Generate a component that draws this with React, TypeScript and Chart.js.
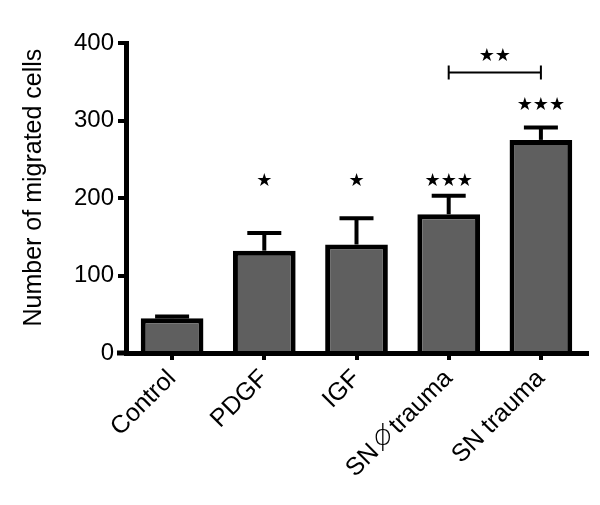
import React, { useEffect, useRef } from "react";
import { Chart, registerables } from "chart.js";
Chart.register(...registerables);

const categories = ["Control", "PDGF", "IGF", "SN \u03D5 trauma", "SN trauma"];
const means = [45, 132, 140, 179, 275];
const sems = [2, 23, 34, 24, 16];
const starLabels = ["", "\u2605", "\u2605", "\u2605\u2605\u2605", "\u2605\u2605\u2605"];
const starLevels = [0, 222, 222, 222, 320];
const bracketFrom = 3;
const bracketTo = 4;
const bracketLevel = 362;
const bracketLabel = "\u2605\u2605";
const bracketLabelLevel = 383;
const yTicks = [0, 100, 200, 300, 400];

const UPRIGHT = "\u03D5";
const GAP = "\u2002";
const FONT = "'Liberation Sans', Arial, Helvetica, sans-serif";

const annotations = {
  id: "annotations",
  afterDatasetsDraw(chart: any) {
    const ctx = chart.ctx;
    const x = chart.scales.x;
    const y = chart.scales.y;
    ctx.save();
    ctx.strokeStyle = "#000";
    ctx.fillStyle = "#000";
    // error bars
    ctx.lineWidth = 4;
    means.forEach((m, i) => {
      const cx = x.getPixelForValue(i);
      const yb = y.getPixelForValue(m);
      const yt = y.getPixelForValue(m + sems[i]);
      ctx.beginPath();
      ctx.moveTo(cx, yb);
      ctx.lineTo(cx, yt);
      ctx.stroke();
      ctx.beginPath();
      ctx.moveTo(cx - 17, yt);
      ctx.lineTo(cx + 17, yt);
      ctx.stroke();
    });
    // stars
    ctx.font = `18px 'DejaVu Sans', sans-serif`;
    ctx.textAlign = "center";
    ctx.textBaseline = "middle";
    starLabels.forEach((s, i) => {
      if (!s) return;
      ctx.fillText(s, x.getPixelForValue(i), y.getPixelForValue(starLevels[i]));
    });
    // bracket
    const x1 = x.getPixelForValue(bracketFrom);
    const x2 = x.getPixelForValue(bracketTo);
    const yb = y.getPixelForValue(bracketLevel);
    ctx.lineWidth = 2;
    ctx.beginPath();
    ctx.moveTo(x1, yb);
    ctx.lineTo(x2, yb);
    ctx.moveTo(x1, yb - 7);
    ctx.lineTo(x1, yb + 7);
    ctx.moveTo(x2, yb - 7);
    ctx.lineTo(x2, yb + 7);
    ctx.stroke();
    ctx.fillText(bracketLabel, (x1 + x2) / 2, y.getPixelForValue(bracketLabelLevel));
    // x-axis extension to the left
    ctx.lineWidth = 5;
    ctx.beginPath();
    ctx.moveTo(chart.chartArea.left - 9, y.getPixelForValue(0));
    ctx.lineTo(chart.chartArea.left, y.getPixelForValue(0));
    ctx.stroke();
    ctx.restore();
  },
  afterDraw(chart: any) {
    // draw the upright glyph inside the rotated tick label
    const x = chart.scales.x;
    const items = x._labelItems || [];
    const ctx = chart.ctx;
    items.forEach((item: any, i: number) => {
      const cat = categories[i];
      if (!cat || cat.indexOf(UPRIGHT) < 0) return;
      const after = cat.slice(cat.indexOf(UPRIGHT) + 1);
      const o = item.options;
      ctx.save();
      ctx.translate(o.translation[0], o.translation[1]);
      ctx.rotate(o.rotation);
      ctx.font = item.font.string;
      ctx.textBaseline = o.textBaseline;
      const wAfter = ctx.measureText(after).width;
      const wGap = ctx.measureText(GAP).width;
      const mN = ctx.measureText("N");
      const cx = -(wAfter + wGap / 2);
      const cy = item.textOffset + (mN.actualBoundingBoxDescent - mN.actualBoundingBoxAscent) / 2;
      ctx.translate(cx, cy);
      ctx.rotate(-o.rotation);
      ctx.font = "300 29px Roboto, 'DejaVu Sans', sans-serif";
      ctx.textAlign = "center";
      ctx.textBaseline = "alphabetic";
      ctx.fillStyle = "#000";
      const mg = ctx.measureText(UPRIGHT);
      ctx.fillText(UPRIGHT, 0, (mg.actualBoundingBoxAscent - mg.actualBoundingBoxDescent) / 2);
      ctx.restore();
    });
  },
};

export default function App() {
  const ref = useRef<HTMLCanvasElement>(null);
  useEffect(() => {
    if (!ref.current) return;
    const chart = new Chart(ref.current, {
      type: "bar",
      data: {
        labels: categories,
        datasets: [
          {
            data: means,
            backgroundColor: "#5f5f5f",
            borderColor: "#000",
            borderWidth: 5,
            borderSkipped: "bottom",
            barPercentage: 0.68,
            categoryPercentage: 1,
          },
        ],
      },
      options: {
        responsive: false,
        animation: false,
        layout: { padding: { top: 43, right: 13, left: 0, bottom: 0 } },
        plugins: { legend: { display: false }, tooltip: { enabled: false } },
        scales: {
          x: {
            afterFit: (s: any) => {
              s.height = 152;
            },
            grid: {
              display: true,
              drawOnChartArea: false,
              offset: false,
              drawTicks: true,
              tickLength: 7,
              lineWidth: 4,
              color: "#000",
            },
            border: { display: true, color: "#000", width: 5 },
            ticks: {
              color: "#000",
              font: { family: FONT, size: 25 },
              maxRotation: 45,
              minRotation: 45,
              padding: 4,
              callback: (_v: any, i: number) => categories[i].replace(UPRIGHT, GAP),
            },
          },
          y: {
            min: 0,
            max: 400,
            afterFit: (s: any) => {
              s.width = 126;
            },
            afterBuildTicks: (s: any) => {
              s.ticks = yTicks.map((v) => ({ value: v }));
            },
            grid: {
              display: true,
              drawOnChartArea: false,
              drawTicks: true,
              tickLength: 8,
              lineWidth: 4,
              color: "#000",
            },
            border: { display: true, color: "#000", width: 5 },
            ticks: {
              color: "#000",
              font: { family: FONT, size: 24 },
              padding: 4,
            },
            title: {
              display: true,
              text: "\u00A0\u00A0\u00A0Number of migrated cells",
              color: "#000",
              font: { family: FONT, size: 25 },
              padding: { top: 19, bottom: 0 },
            },
          },
        },
      },
      plugins: [annotations],
    } as any);
    return () => chart.destroy();
  }, []);
  return (
    <div style={{ position: "fixed", left: 0, top: 0, width: 600, height: 505, background: "#fff" }}>
      <canvas ref={ref} width={600} height={505} style={{ display: "block" }} />
    </div>
  );
}
